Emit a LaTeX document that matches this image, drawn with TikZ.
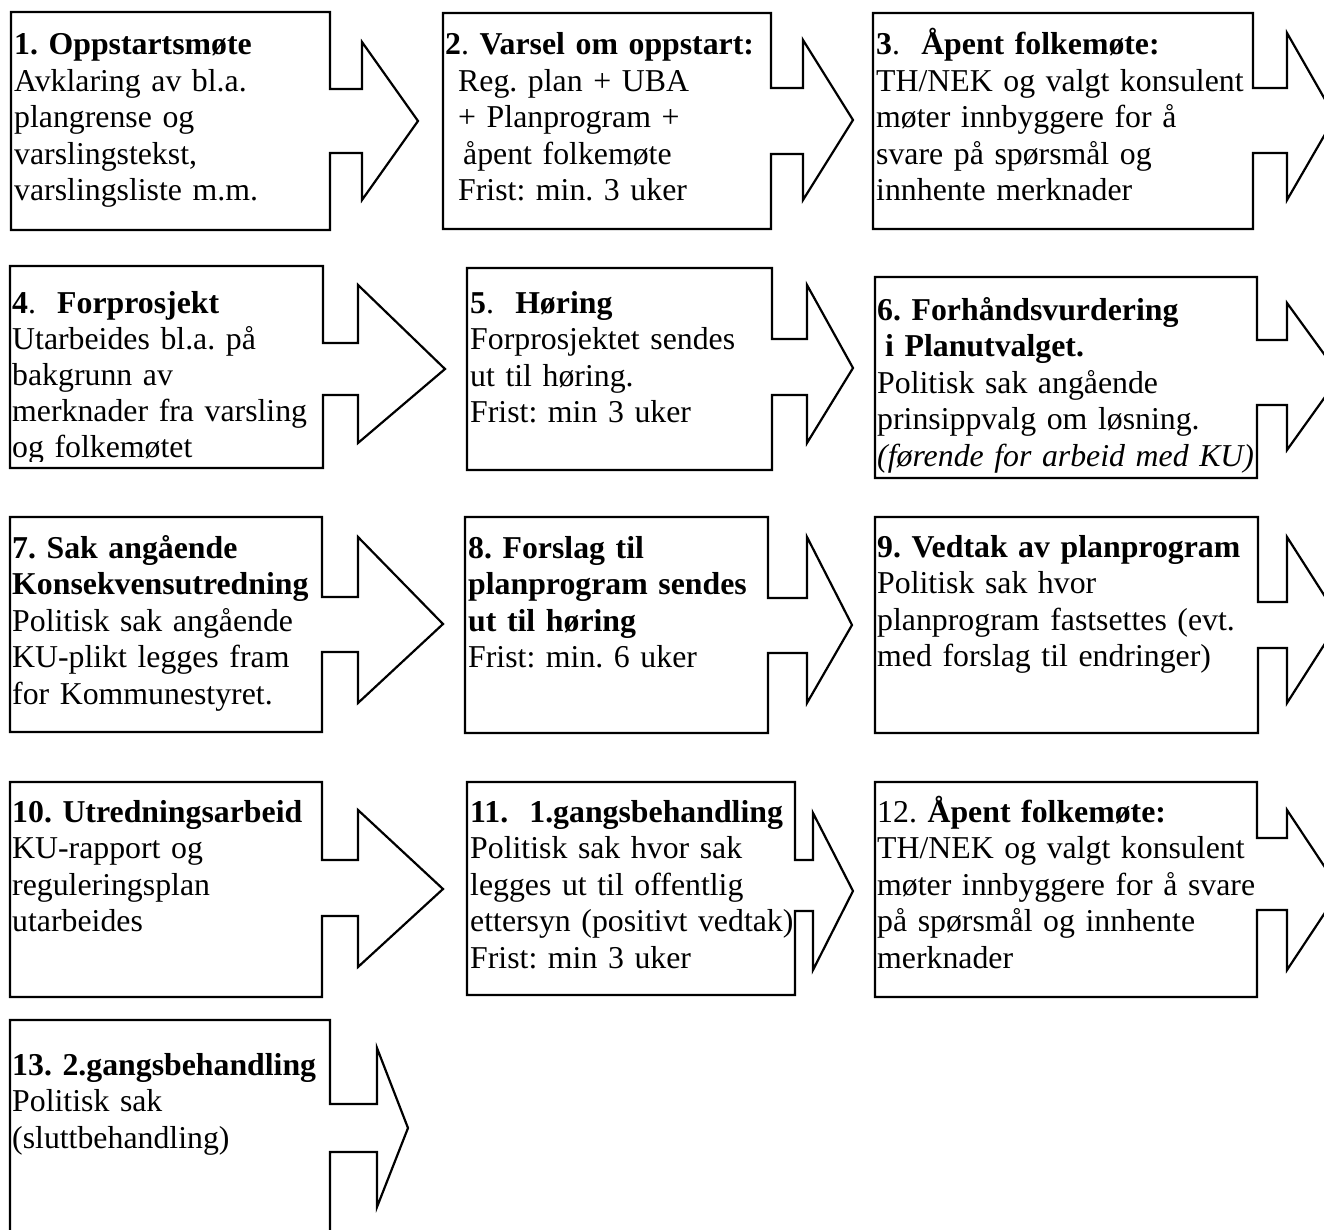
\documentclass[tikz,border=0pt]{standalone}
\usepackage{fontspec}
\setmainfont{Liberation Serif}
\begin{document}
\frenchspacing
\begin{tikzpicture}[x=1pt,y=-1pt,
  callout/.style={draw=black,line width=2.2pt,line join=miter,fill=white},
  txt/.style={anchor=base west,inner sep=0pt,text width=500pt,align=left,
    font=\fontsize{31.8}{36.5}\selectfont\frenchspacing}]
\clip (0,0) rectangle (1324,1230);
\fill[white] (0,0) rectangle (1324,1230);
% Row 1
\draw[callout] (11,12) -- (330,12) -- (330,89) -- (362,89) -- (362,42) -- (418,121) -- (362,200) -- (362,153) -- (330,153) -- (330,230) -- (11,230) -- cycle;
\draw[callout] (443,13) -- (771,13) -- (771,88) -- (803,88) -- (803,40) -- (853,120) -- (803,200) -- (803,154) -- (771,154) -- (771,229) -- (443,229) -- cycle;
\draw[callout] (873,13) -- (1253,13) -- (1253,88) -- (1287,88) -- (1287,33) -- (1335,117) -- (1287,200) -- (1287,153) -- (1253,153) -- (1253,229) -- (873,229) -- cycle;
% Row 2
\draw[callout] (10,266) -- (323,266) -- (323,343) -- (358,343) -- (358,285) -- (445,369) -- (358,443) -- (358,395) -- (323,395) -- (323,468) -- (10,468) -- cycle;
\draw[callout] (467,268) -- (772,268) -- (772,339) -- (807,339) -- (807,285) -- (853,368) -- (807,443) -- (807,395) -- (772,395) -- (772,470) -- (467,470) -- cycle;
\draw[callout] (875,277) -- (1257,277) -- (1257,340) -- (1287,340) -- (1287,303) -- (1340,376) -- (1287,450) -- (1287,405) -- (1257,405) -- (1257,478) -- (875,478) -- cycle;
% Row 3
\draw[callout] (10,517) -- (322,517) -- (322,597) -- (358,597) -- (358,537) -- (443,624) -- (358,703) -- (358,652) -- (322,652) -- (322,732) -- (10,732) -- cycle;
\draw[callout] (465,517) -- (768,517) -- (768,598) -- (807,598) -- (807,537) -- (852,625) -- (807,703) -- (807,653) -- (768,653) -- (768,733) -- (465,733) -- cycle;
\draw[callout] (875,517) -- (1258,517) -- (1258,602) -- (1287,602) -- (1287,537) -- (1340,620) -- (1287,703) -- (1287,648) -- (1258,648) -- (1258,733) -- (875,733) -- cycle;
% Row 4
\draw[callout] (10,782) -- (322,782) -- (322,860) -- (358,860) -- (358,810) -- (443,889) -- (358,967) -- (358,916) -- (322,916) -- (322,997) -- (10,997) -- cycle;
\draw[callout] (467,782) -- (795,782) -- (795,860) -- (813,860) -- (813,813) -- (853,891) -- (813,970) -- (813,911) -- (795,911) -- (795,995) -- (467,995) -- cycle;
\draw[callout] (875,782) -- (1257,782) -- (1257,838) -- (1287,838) -- (1287,810) -- (1340,890) -- (1287,970) -- (1287,910) -- (1257,910) -- (1257,997) -- (875,997) -- cycle;
% Row 5
\draw[callout] (10,1020) -- (330,1020) -- (330,1104) -- (377,1104) -- (377,1048) -- (408,1128) -- (377,1207) -- (377,1152) -- (330,1152) -- (330,1260) -- (10,1260) -- cycle;

% Texts
\node[txt] (t1) at (14,55) {\textbf{1. Oppstartsmøte}\\Avklaring av bl.a.\\plangrense og\\varslingstekst,\\varslingsliste m.m.};
\node[txt] (t2) at (445,55) {\textbf{2}. \textbf{Varsel om oppstart:}\\\hspace*{13pt}Reg. plan + UBA\\\hspace*{13pt}+ Planprogram +\\\hspace*{18pt}åpent folkemøte\\\hspace*{13pt}Frist: min. 3 uker};
\node[txt] (t3) at (876,55) {\textbf{3}.\ \ \textbf{Åpent folkemøte:}\\TH/NEK og valgt konsulent\\møter innbyggere for å\\svare på spørsmål og\\innhente merknader};
\begin{scope}
\clip (10,266) rectangle (323,461);
\node[txt,font=\fontsize{31.8}{35.75}\selectfont\frenchspacing] (t4) at (12,314) {\textbf{4}.\ \ \textbf{Forprosjekt}\\Utarbeides bl.a. på\\bakgrunn av\\merknader fra varsling\\og folkemøtet};
\end{scope}
\node[txt] (t5) at (470,313) {\textbf{5}.\ \ \textbf{Høring}\\Forprosjektet sendes\\ut til høring.\\Frist: min 3 uker};
\node[txt] (t6) at (877,320) {\textbf{6. Forhåndsvurdering}\\\hspace*{8pt}\textbf{i Planutvalget.}\\Politisk sak angående\\prinsippvalg om løsning.\\\textit{(førende for arbeid med KU)}};
\node[txt] (t7) at (12,558) {\textbf{7. Sak angående}\\\textbf{Konsekvensutredning}\\Politisk sak angående\\KU-plikt legges fram\\for Kommunestyret.};
\node[txt] (t8) at (468,558) {\textbf{8. Forslag til}\\\textbf{planprogram sendes}\\\textbf{ut til høring}\\Frist: min. 6 uker};
\node[txt] (t9) at (877,557) {\textbf{9. Vedtak av planprogram}\\Politisk sak hvor\\planprogram fastsettes (evt.\\med forslag til endringer)};
\node[txt] (t10) at (12,822) {\textbf{10. Utredningsarbeid}\\KU-rapport og\\reguleringsplan\\utarbeides};
\node[txt] (t11) at (470,822) {\textbf{11.\ \ 1.gangsbehandling}\\Politisk sak hvor sak\\legges ut til offentlig\\ettersyn (positivt vedtak)\\Frist: min 3 uker};
\node[txt] (t12) at (877,822) {12. \textbf{Åpent folkemøte:}\\TH/NEK og valgt konsulent\\møter innbyggere for å svare\\på spørsmål og innhente\\merknader};
\node[txt] (t13) at (12,1075) {\textbf{13. 2.gangsbehandling}\\Politisk sak\\(sluttbehandling)};
\end{tikzpicture}
\end{document}
